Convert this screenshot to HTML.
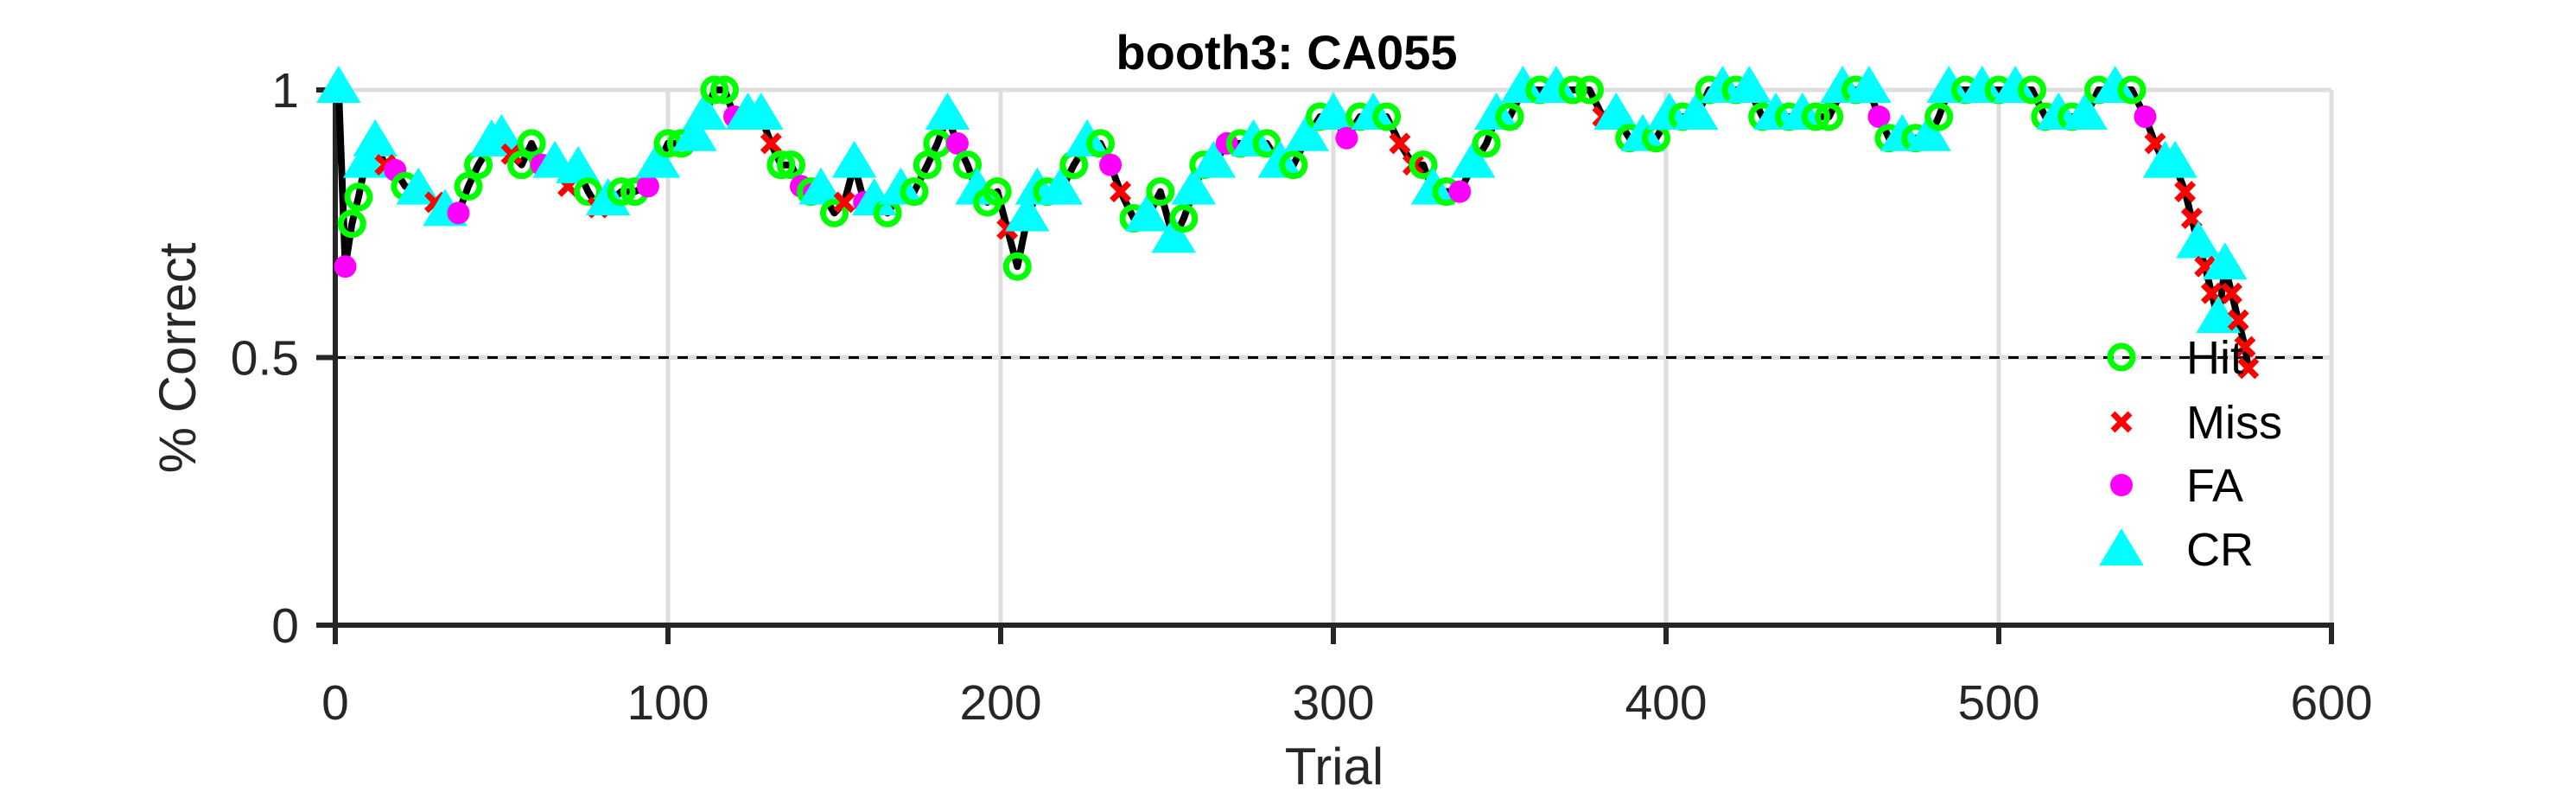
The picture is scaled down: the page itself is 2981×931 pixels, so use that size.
<!DOCTYPE html>
<html><head><meta charset="utf-8"><style>
html,body{margin:0;padding:0;background:#fff}
svg{display:block}
text{font-family:"Liberation Sans",sans-serif;fill:#262626}
</style></head><body>
<svg id="chart" width="2981" height="931" viewBox="0 0 2981 931" xmlns="http://www.w3.org/2000/svg">
<rect width="2981" height="931" fill="#fff"/>
<g id="grid"></g>
<g id="axes"></g>
<g id="series"></g>
<text x="1489" y="80" text-anchor="middle" font-weight="bold" font-size="56" style="fill:#000">booth3: CA055</text>
<text x="1544" y="907" text-anchor="middle" font-size="60">Trial</text>
<text x="0" y="0" text-anchor="middle" font-size="60" transform="translate(226,414) rotate(-90)">% Correct</text>
<g id="legend"></g>
</svg>
<script>
const trials = [1,3,5,7,9,12,15,18,21,25,30,33,37,40,43,47,50,53,56,59,62,66,70,73,76,79,82,86,90,94,97,100,104,108,111,114,117,120,124,128,131,134,137,140,143,146,150,153,156,159,162,166,170,174,178,181,184,187,190,193,196,199,202,205,208,211,214,218,222,226,230,233,236,240,244,248,252,255,258,261,264,268,272,276,280,284,288,292,296,300,304,308,312,316,320,324,327,330,334,338,342,346,349,353,357,362,367,372,377,381,385,389,393,397,401,405,409,413,417,421,425,429,433,437,441,445,449,453,457,461,464,467,471,475,479,482,485,490,495,500,505,510,514,518,522,526,530,535,540,544,547,550,553,556,558,560,562,564,566,568,570,572,574,575];
const perf = [1,.67,.75,.8,.86,.9,.86,.85,.82,.81,.79,.77,.77,.82,.86,.9,.91,.88,.86,.9,.86,.86,.82,.85,.81,.78,.79,.81,.81,.82,.86,.9,.9,.91,.95,1,1,.95,.95,.95,.9,.86,.86,.82,.81,.81,.77,.79,.86,.79,.79,.77,.81,.81,.86,.9,.95,.9,.86,.81,.79,.81,.74,.67,.76,.81,.81,.81,.86,.9,.9,.86,.81,.76,.76,.81,.72,.76,.81,.86,.86,.9,.9,.9,.9,.86,.86,.91,.95,.95,.91,.95,.95,.95,.9,.86,.86,.81,.81,.81,.86,.9,.95,.95,1,1,1,1,1,.95,.95,.91,.91,.91,.95,.95,.95,1,1,1,1,.95,.95,.95,.95,.95,.95,1,1,1,.95,.91,.91,.91,.91,.95,1,1,1,1,1,1,.95,.95,.95,.95,1,1,1,.95,.9,.86,.86,.81,.76,.71,.67,.62,.57,.67,.62,.57,.52,.48];
const outcomes = "CFHHCCMFHC"+"MCFHHCCMHH"+"FCMCHMCHHF"+"CHHCCHHFCC"+"MHHFHCHMCF"+"CHCHHHCFHC"+"HHMHCCHCHC"+"HFMHCHCHCH"+"CFHCHCHCHC"+"FHCHMMHCHF"+"CHCHCHCHHM"+"CHCHCHCHCH"+"CHCHCHHCHC"+"FHCHCHCHCH"+"CHHCHCHCHF"+"MCCMMCMMCC"+"MMMM";
const xTicks = [0,100,200,300,400,500,600];
const yTicks = [0,0.5,1];
const yTickLabels = ["0","0.5","1"];
const legendLabels = ["Hit","Miss","FA","CR"];

const NS="http://www.w3.org/2000/svg";
const X0=388,X1=2698,Y0=723,Y1=104;
function xs(t){return X0+(t-0)/(600-0)*(X1-X0);}
function ys(v){return Y0-(v-0)/(1-0)*(Y0-Y1);}
function mk(tag,attrs,parent){const e=document.createElementNS(NS,tag);for(const k in attrs)e.setAttribute(k,attrs[k]);parent.appendChild(e);return e;}

const grid=document.getElementById('grid');
xTicks.forEach(t=>{if(t===0)return;
  const l=mk('line',{x1:xs(t),x2:xs(t),y1:Y1,y2:Y0,stroke:'#dedede','stroke-width':5},grid);
  
  
});
yTicks.forEach(v=>{if(v===0)return;
  const l=mk('line',{x1:X0,x2:X1,y1:ys(v),y2:ys(v),stroke:'#dedede','stroke-width':5},grid);
  
  
});
const ref=mk('line',{x1:X0,x2:X1,y1:ys(0.5),y2:ys(0.5),stroke:'#000','stroke-width':3,'stroke-dasharray':'12 10'},grid);



const axes=document.getElementById('axes');
const xa=mk('line',{x1:X0-22,x2:X1+3,y1:Y0,y2:Y0,stroke:'#262626','stroke-width':6},axes);


const ya=mk('line',{x1:X0,x2:X0,y1:Y1-3,y2:Y0+22,stroke:'#262626','stroke-width':6},axes);


xTicks.forEach(t=>{
  const tk=mk('line',{x1:xs(t),x2:xs(t),y1:Y0,y2:Y0+22,stroke:'#262626','stroke-width':6},axes);
  
  
  const tx=mk('text',{x:xs(t),y:832,'text-anchor':'middle','font-size':57},axes);
  tx.textContent=String(t);
  
  
});
yTicks.forEach((v,i)=>{
  const tk=mk('line',{x1:X0-22,x2:X0,y1:ys(v),y2:ys(v),stroke:'#262626','stroke-width':6},axes);
  
  
  const tx=mk('text',{x:X0-42,y:ys(v)+20,'text-anchor':'end','font-size':57},axes);
  tx.textContent=yTickLabels[i];
  
  
});

const series=document.getElementById('series');
let d='';
trials.forEach((t,i)=>{d+=(i?'L':'M')+xs(t).toFixed(1)+','+ys(perf[i]).toFixed(1);});
const line=mk('path',{d:d,fill:'none',stroke:'#000','stroke-width':8,'stroke-linejoin':'round'},series);



function marker(type,cx,cy,parent){
  let e;
  if(type==='H'){e=mk('circle',{cx:cx,cy:cy,r:13,fill:'none',stroke:'#00ff00','stroke-width':7},parent);}
  else if(type==='M'){e=mk('path',{d:`M${cx-10},${cy-10}L${cx+10},${cy+10}M${cx-10},${cy+10}L${cx+10},${cy-10}`,stroke:'#ff0000','stroke-width':7,fill:'none'},parent);}
  else if(type==='F'){e=mk('circle',{cx:cx,cy:cy,r:13,fill:'#ff00ff'},parent);}
  else {e=mk('path',{d:`M${cx},${cy-26}L${cx+24},${cy+14}L${cx-24},${cy+14}Z`,fill:'#00ffff',stroke:'#00ffff','stroke-width':2},parent);}
  return e;
}
const names={H:'hit-marker',M:'miss-marker',F:'fa-marker',C:'cr-marker'};
trials.forEach((t,i)=>{
  const o=outcomes[i]||'H';
  const m=marker(o,xs(t),ys(perf[i]),series);
  
  
});

const legend=document.getElementById('legend');
const lt=['H','M','F','C'];
const ly=[413,488,561,635];
legendLabels.forEach((lab,i)=>{
  const m=marker(lt[i],2455,ly[i]+(lt[i]==='C'?4:0),legend);
  
  
  const tx=mk('text',{x:2530,y:ly[i]+19,'font-size':54,style:'fill:#000'},legend);
  tx.textContent=lab;
  
  
});
</script>
</body></html>
